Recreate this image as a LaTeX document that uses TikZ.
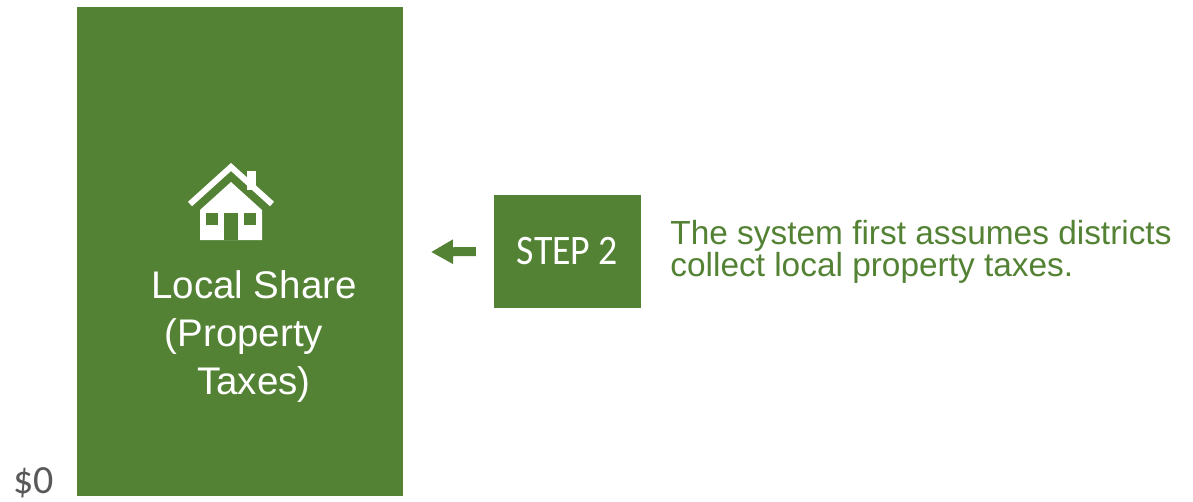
\documentclass[tikz,border=0pt]{standalone}
\usepackage{fontspec}
\setmainfont{Liberation Sans}
\newfontfamily\stepfont{Carlito}
\usepackage{xcolor}
\usetikzlibrary{arrows.meta,positioning}
\definecolor{localgreen}{HTML}{548235}
\definecolor{axisgray}{HTML}{595959}
\tikzset{%
	bar/.style      = {fill=localgreen, inner sep=0pt, minimum width=326pt, minimum height=489pt},
	stepbox/.style  = {fill=localgreen, text=white, inner sep=0pt, minimum width=147pt, minimum height=113pt, font=\stepfont\fontsize{42}{42}\selectfont},
	sharetext/.style= {text=white, align=center, inner sep=0pt, font=\fontsize{38.5}{48}\selectfont},
	note/.style     = {text=localgreen, align=left, inner sep=0pt, font=\fontsize{33.4}{32}\selectfont},
	steparrow/.style= {localgreen, line width=9pt, -{Triangle[length=22pt,width=23pt]}},
}
\begin{document}
\begin{tikzpicture}[x=1pt,y=-1pt]
	\useasboundingbox (0,0) rectangle (1193,501);
	\node[bar] (bar) at (240,251.5) {};  % local share column
	\node[sharetext, anchor=north] (share) at (254,270) {Local Share\\(Property\rule{20pt}{0pt}\\Taxes)};
	\node[text=axisgray, inner sep=0pt, anchor=base west, font=\stepfont\fontsize{40}{40}\selectfont] (zero) at (13,493) {\$0};
	
	% house icon
	\draw[white, line width=6pt, line cap=butt, line join=miter] (190,204) -- (231,167) -- (272,204);
	\fill[white] (247,171) rectangle (256,190);
	\fill[white] (200,240) -- (200,210) -- (231,182) -- (262,210) -- (262,240) -- cycle;
	\fill[localgreen] (206,213) rectangle (218,225);
	\fill[localgreen] (244,213) rectangle (256,225);
	\fill[localgreen] (224,213) rectangle (238,240);
	
	\node[stepbox] (step) at (567.5,251.5) {\scalebox{0.9}[1]{STEP 2}};
	\node[note, right=29pt of step] (note) {The system first assumes districts\\collect local property taxes.};
	\coordinate (tip) at (431,252);
	\draw[steparrow] ([xshift=-18pt]step.west) -- (tip);
\end{tikzpicture}
\end{document}
